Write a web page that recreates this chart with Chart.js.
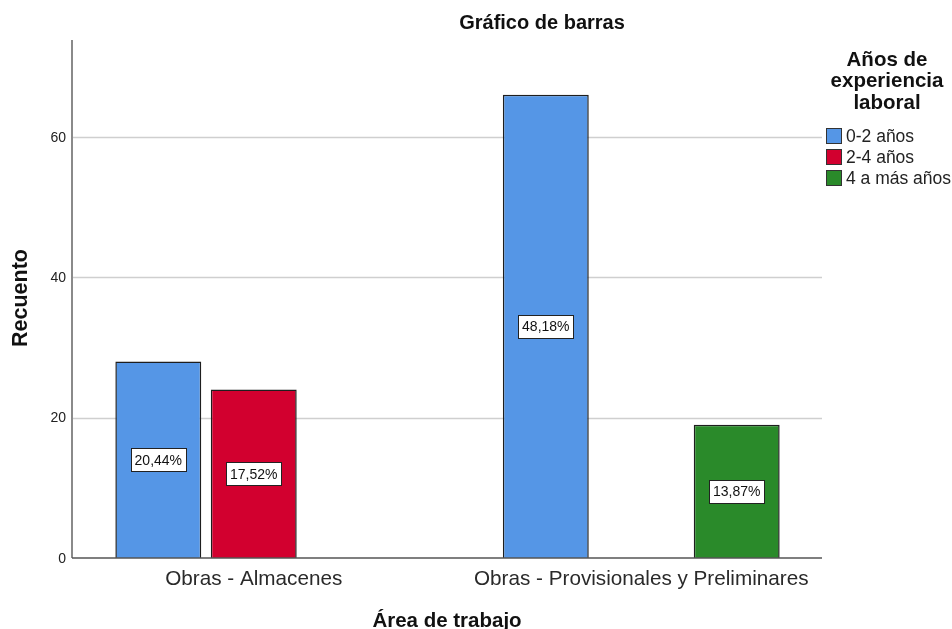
<!DOCTYPE html>
<html>
<head>
<meta charset="utf-8">
<script src="https://cdn.jsdelivr.net/npm/chart.js@4.4.1/dist/chart.umd.min.js"></script>
<style>
  html, body { margin: 0; padding: 0; background: #fff; }
  #wrap { width: 952px; height: 629px; position: relative; }
</style>
</head>
<body>
<div id="wrap"><canvas id="c" width="952" height="629"></canvas></div>
<script>
// ---- data ----
const categories = ['Obras - Almacenes', 'Obras - Provisionales y Preliminares'];
const seriesNames = ['0-2 años', '2-4 años', '4 a más años'];
const values0to2 = [28, 66];
const values2to4 = [24, null];
const values4plus = [null, 19];
const yTicks = [0, 20, 40, 60];
const chartTitle = 'Gráfico de barras';
const legendTitle = ['Años de', 'experiencia', 'laboral'];
const yTitle = 'Recuento';
const xTitle = 'Área de trabajo';

const colors = ['#5596e6', '#d2002f', '#2a8a2a'];
const FONT = '"Liberation Sans", Arial, sans-serif';

const allValues = [values0to2, values2to4, values4plus];
const total = allValues.flat().filter(v => v != null).reduce((a, b) => a + b, 0);

const AX_LEFT = 72, AX_RIGHT = 822;

const decor = {
  id: 'decor',
  beforeDatasetsDraw(chart) {
    const ctx = chart.ctx, y = chart.scales.y;
    ctx.save();
    ctx.strokeStyle = '#cfcfcf';
    ctx.lineWidth = 1.5;
    yTicks.forEach(t => {
      if (t === 0) return;
      const py = Math.round(y.getPixelForValue(t)) + 0.5;
      ctx.beginPath(); ctx.moveTo(AX_LEFT, py); ctx.lineTo(AX_RIGHT, py); ctx.stroke();
    });
    // y tick labels
    ctx.fillStyle = '#222';
    ctx.font = '14px ' + FONT;
    ctx.textAlign = 'right';
    ctx.textBaseline = 'middle';
    yTicks.forEach(t => {
      ctx.fillText(String(t), 66, y.getPixelForValue(t) + 1);
    });
    ctx.restore();
  },
  afterDatasetsDraw(chart) {
    const ctx = chart.ctx, y = chart.scales.y;
    const ca = chart.chartArea;
    ctx.save();
    // axes lines
    ctx.strokeStyle = '#8a8a8a';
    ctx.lineWidth = 2;
    ctx.beginPath(); ctx.moveTo(AX_LEFT, ca.top); ctx.lineTo(AX_LEFT, y.getPixelForValue(0)); ctx.stroke();
    ctx.strokeStyle = '#555';
    ctx.lineWidth = 1.5;
    const by = y.getPixelForValue(0);
    ctx.beginPath(); ctx.moveTo(AX_LEFT, by); ctx.lineTo(AX_RIGHT, by); ctx.stroke();

    // data labels
    ctx.font = '14px ' + FONT;
    ctx.textAlign = 'center';
    ctx.textBaseline = 'middle';
    chart.data.datasets.forEach((ds, di) => {
      const meta = chart.getDatasetMeta(di);
      meta.data.forEach((bar, i) => {
        const v = ds.data[i];
        if (v == null) return;
        const txt = (v / total * 100).toFixed(2).replace('.', ',') + '%';
        const cx = bar.x, cy = (bar.y + bar.base) / 2;
        const w = ctx.measureText(txt).width + 8, h = 23;
        const x0 = Math.round(cx - w / 2) + 0.5, y0 = Math.round(cy - h / 2) + 0.5;
        ctx.fillStyle = '#fff';
        ctx.fillRect(x0, y0, Math.round(w), h);
        ctx.strokeStyle = '#222';
        ctx.lineWidth = 1;
        ctx.strokeRect(x0, y0, Math.round(w), h);
        ctx.fillStyle = '#111';
        ctx.fillText(txt, cx, cy + 1);
      });
    });
    ctx.restore();
  },
  afterDraw(chart) {
    const ctx = chart.ctx;
    ctx.save();
    ctx.fillStyle = '#111';
    ctx.textAlign = 'center';
    ctx.textBaseline = 'middle';
    ctx.font = 'bold 20px ' + FONT;
    ctx.fillText(chartTitle, 542, 23);
    // y title
    ctx.save();
    ctx.translate(21, 298);
    ctx.rotate(-Math.PI / 2);
    ctx.font = 'bold 21.5px ' + FONT;
    ctx.fillText(yTitle, 0, 0);
    ctx.restore();
    // x title
    ctx.font = 'bold 20.5px ' + FONT;
    ctx.fillText(xTitle, 447, 621);
    // legend title
    ctx.font = 'bold 20.5px ' + FONT;
    legendTitle.forEach((l, i) => ctx.fillText(l, 887, 60 + i * 21.5));
    // legend items
    ctx.textAlign = 'left';
    ctx.font = '17.5px ' + FONT;
    seriesNames.forEach((n, i) => {
      const cy = 136 + i * 21;
      ctx.fillStyle = colors[i];
      ctx.fillRect(826.5, cy - 7.5, 15, 15);
      ctx.strokeStyle = '#333';
      ctx.lineWidth = 1;
      ctx.strokeRect(826.5, cy - 7.5, 15, 15);
      ctx.fillStyle = '#222';
      ctx.fillText(n, 846, cy + 1);
    });
    ctx.restore();
  }
};

new Chart(document.getElementById('c'), {
  type: 'bar',
  data: {
    labels: categories,
    datasets: seriesNames.map((n, i) => ({
      label: n,
      data: allValues[i],
      backgroundColor: colors[i],
      borderColor: '#1e1e1e',
      borderWidth: 1.5,
      categoryPercentage: 0.739,
      barPercentage: 0.90
    }))
  },
  options: {
    responsive: false,
    animation: false,
    layout: { padding: { left: 60, right: 117, top: 40, bottom: 0 } },
    plugins: { legend: { display: false }, tooltip: { enabled: false }, title: { display: false } },
    scales: {
      y: {
        display: false,
        min: 0,
        max: 73.8
      },
      x: {
        grid: { display: false, drawTicks: false },
        border: { display: false },
        ticks: { color: '#2a2a2a', font: { size: 20.7, family: FONT }, padding: 9, maxRotation: 0, autoSkip: false },
        afterFit(scale) { scale.height = 71; }
      }
    }
  },
  plugins: [decor]
});
</script>
</body>
</html>
